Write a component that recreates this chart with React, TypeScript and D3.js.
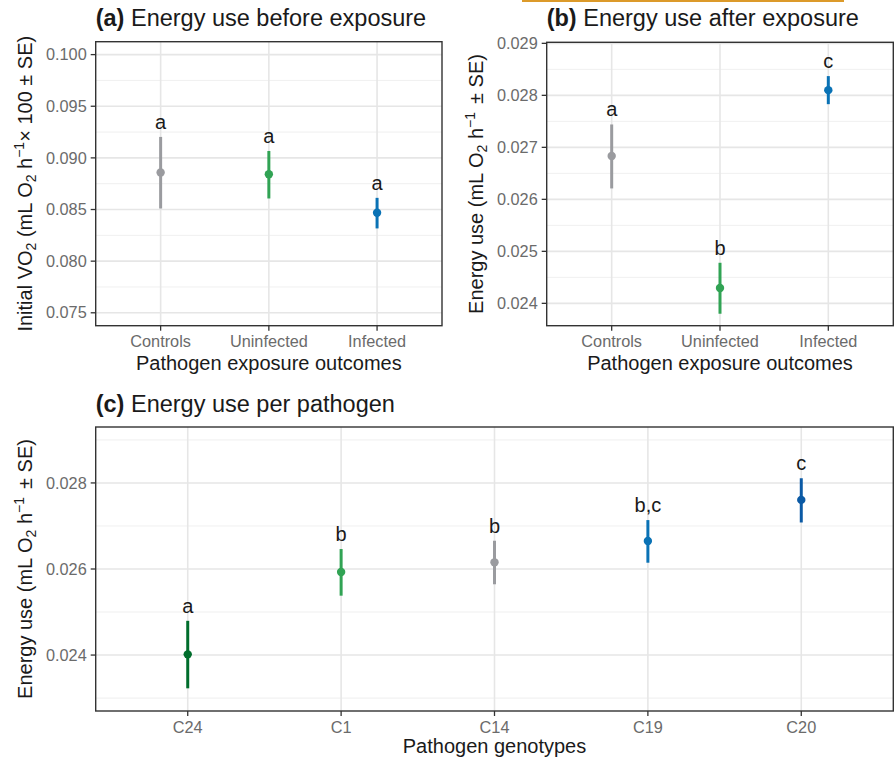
import React from "react";
import * as d3 from "d3";

const outcomeCats = ["Controls", "Uninfected", "Infected"];
const beforeMean = [0.08858, 0.08842, 0.08468];
const beforeLower = [0.0851, 0.08607, 0.08317];
const beforeUpper = [0.09203, 0.09067, 0.08613];
const beforeLetters = ["a", "a", "a"];
const beforeTicks = [0.075, 0.08, 0.085, 0.09, 0.095, 0.1];
const beforeDomain = [0.07375, 0.10125];

const afterMean = [0.026833, 0.024294, 0.0281];
const afterLower = [0.02621, 0.0238, 0.02783];
const afterUpper = [0.02744, 0.02478, 0.02837];
const afterLetters = ["a", "b", "c"];
const afterTicks = [0.024, 0.025, 0.026, 0.027, 0.028, 0.029];
const afterDomain = [0.02357, 0.02902];

const genotypes = ["C24", "C1", "C14", "C19", "C20"];
const genoMean = [0.024016, 0.02593, 0.026155, 0.02665, 0.027606];
const genoLower = [0.023227, 0.02538, 0.025645, 0.026146, 0.027081];
const genoUpper = [0.024796, 0.026464, 0.026657, 0.027137, 0.028109];
const genoLetters = ["a", "b", "b", "b,c", "c"];
const genoTicks = [0.024, 0.026, 0.028];
const genoDomain = [0.0227, 0.0293];

const outcomeColors = ["#9a9b9f", "#31a354", "#0a72b5"];
const genoColors = ["#006d2c", "#31a354", "#9a9b9f", "#0a72b5", "#0b5aa5"];

const FONT = "'Liberation Sans', Arial, Helvetica, sans-serif";

type PanelProps = {
  left: number; right: number; top: number; bottom: number;
  cats: string[]; mean: number[]; lower: number[]; upper: number[]; letters: string[];
  colors: string[]; domain: number[]; ticks: number[]; fmt: string;
  title: React.ReactNode; yTitle: React.ReactNode; yTitleX: number;
  xTitle: string; xTickY: number; xTitleY: number;
};

function Panel(p: PanelProps) {
  const y = d3.scaleLinear().domain(p.domain).range([p.bottom, p.top]);
  const x = d3.scalePoint<string>().domain(p.cats).range([p.left, p.right]).padding(0.6);
  const f = d3.format(p.fmt);
  const minor: number[] = [];
  for (let i = 0; i < p.ticks.length - 1; i++) minor.push((p.ticks[i] + p.ticks[i + 1]) / 2);
  const step = p.ticks[1] - p.ticks[0];
  minor.push(p.ticks[0] - step / 2, p.ticks[p.ticks.length - 1] + step / 2);
  const minorIn = minor.filter((v) => v >= p.domain[0] && v <= p.domain[1]);
  const cy = (p.top + p.bottom) / 2;
  return (
    <g fontFamily={FONT}>
      {p.title}
      {minorIn.map((v, i) => (
        <line key={"mi" + i} x1={p.left} x2={p.right} y1={y(v)} y2={y(v)} stroke="#ebebeb" strokeWidth={0.8} />
      ))}
      {p.ticks.map((v, i) => (
        <line key={"ma" + i} x1={p.left} x2={p.right} y1={y(v)} y2={y(v)} stroke="#e6e6e6" strokeWidth={1.6} />
      ))}
      {p.cats.map((c) => (
        <line key={"v" + c} x1={x(c)} x2={x(c)} y1={p.top} y2={p.bottom} stroke="#e6e6e6" strokeWidth={1.6} />
      ))}
      {p.cats.map((c, i) => (
        <g key={"d" + c}>
          <line x1={x(c)} x2={x(c)} y1={y(p.lower[i])} y2={y(p.upper[i])} stroke={p.colors[i]} strokeWidth={3} />
          <circle cx={x(c)} cy={y(p.mean[i])} r={4.2} fill={p.colors[i]} />
          <text x={x(c)} y={y(p.upper[i]) - 8} textAnchor="middle" fontSize={20} fill="#1a1a1a">{p.letters[i]}</text>
        </g>
      ))}
      <rect x={p.left} y={p.top} width={p.right - p.left} height={p.bottom - p.top} fill="none" stroke="#333" strokeWidth={1.4} />
      {p.ticks.map((v, i) => (
        <g key={"yt" + i}>
          <line x1={p.left - 5} x2={p.left} y1={y(v)} y2={y(v)} stroke="#333" strokeWidth={1.3} />
          <text x={p.left - 9} y={y(v)} dy="0.35em" textAnchor="end" fontSize={16.3} fill="#6b6b6b">{f(v)}</text>
        </g>
      ))}
      {p.cats.map((c) => (
        <g key={"xt" + c}>
          <line x1={x(c)} x2={x(c)} y1={p.bottom} y2={p.bottom + 5} stroke="#333" strokeWidth={1.3} />
          <text x={x(c)} y={p.xTickY} textAnchor="middle" fontSize={16.3} fill="#6b6b6b">{c}</text>
        </g>
      ))}
      <text x={(p.left + p.right) / 2} y={p.xTitleY} textAnchor="middle" fontSize={20} fill="#1a1a1a">{p.xTitle}</text>
      <text transform={`translate(${p.yTitleX},${cy}) rotate(-90)`} textAnchor="middle" fontSize={20} fill="#1a1a1a">{p.yTitle}</text>
    </g>
  );
}

function energyTitle() {
  return (
    <>
      <tspan>Energy use (mL O</tspan>
      <tspan dy={4} fontSize={14}>2</tspan>
      <tspan dy={-4}> h</tspan>
      <tspan dy={-8} fontSize={14}>−1</tspan>
      <tspan dy={8} dx={8}>± SE)</tspan>
    </>
  );
}

export default function App() {
  return (
    <svg width={894} height={758} style={{ position: "absolute", left: 0, top: 0, background: "#fff" }}>
      <rect x={0} y={0} width={894} height={758} fill="#fff" />
      <rect x={522} y={0} width={322} height={2} fill="#dc9a2a" />
      <Panel
        left={95.7} right={442} top={41.7} bottom={325.7}
        cats={outcomeCats} mean={beforeMean} lower={beforeLower} upper={beforeUpper} letters={beforeLetters}
        colors={outcomeColors} domain={beforeDomain} ticks={beforeTicks} fmt=".3f"
        title={<text x={95.7} y={26} fontSize={23.5} fill="#1a1a1a"><tspan fontWeight="bold">(a)</tspan> Energy use before exposure</text>}
        yTitle={
          <>
            <tspan>Initial VO</tspan>
            <tspan dy={4} fontSize={14}>2</tspan>
            <tspan dy={-4}> (mL O</tspan>
            <tspan dy={4} fontSize={14}>2</tspan>
            <tspan dy={-4}> h</tspan>
            <tspan dy={-8} fontSize={14}>−1</tspan>
            <tspan dy={8}>× 100 ± SE)</tspan>
          </>
        }
        yTitleX={32}
        xTitle="Pathogen exposure outcomes" xTickY={347} xTitleY={370}
      />
      <Panel
        left={546.7} right={893.3} top={42.3} bottom={325.7}
        cats={outcomeCats} mean={afterMean} lower={afterLower} upper={afterUpper} letters={afterLetters}
        colors={outcomeColors} domain={afterDomain} ticks={afterTicks} fmt=".3f"
        title={<text x={546.7} y={26} fontSize={23.5} fill="#1a1a1a"><tspan fontWeight="bold">(b)</tspan> Energy use after exposure</text>}
        yTitle={energyTitle()}
        yTitleX={483}
        xTitle="Pathogen exposure outcomes" xTickY={347} xTitleY={370}
      />
      <Panel
        left={95.7} right={893.3} top={427} bottom={711}
        cats={genotypes} mean={genoMean} lower={genoLower} upper={genoUpper} letters={genoLetters}
        colors={genoColors} domain={genoDomain} ticks={genoTicks} fmt=".3f"
        title={<text x={95.7} y={412} fontSize={23.5} fill="#1a1a1a"><tspan fontWeight="bold">(c)</tspan> Energy use per pathogen</text>}
        yTitle={energyTitle()}
        yTitleX={32}
        xTitle="Pathogen genotypes" xTickY={732.5} xTitleY={753}
      />
    </svg>
  );
}
